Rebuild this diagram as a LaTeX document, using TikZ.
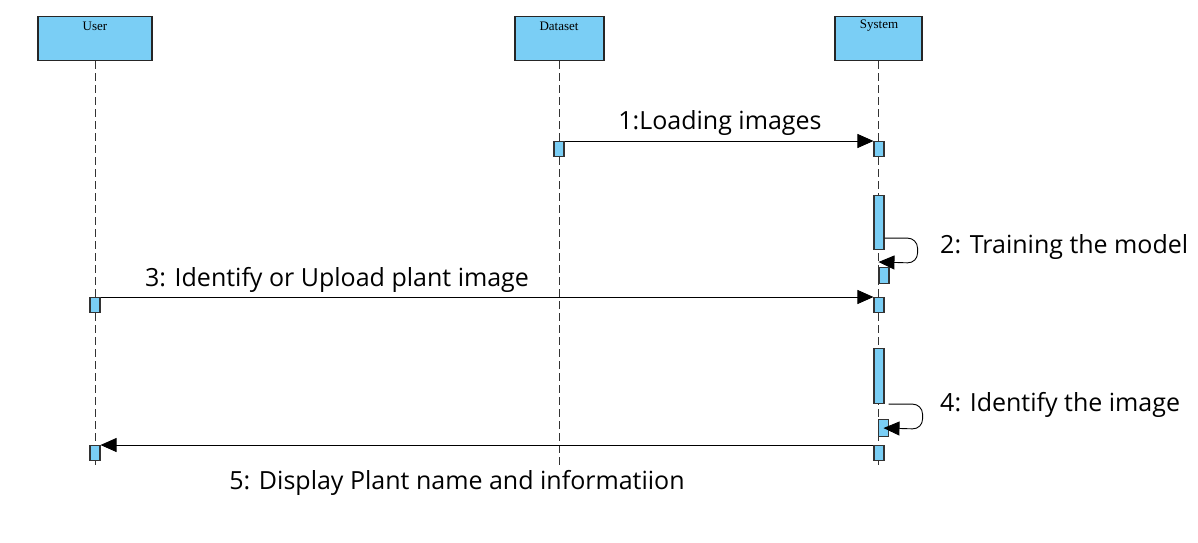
\documentclass[tikz,border=0pt]{standalone}
\usepackage{fontspec}
\setmainfont{Open Sans}
\newfontfamily\headfont{Liberation Serif}
\usetikzlibrary{arrows.meta}
\definecolor{actblue}{RGB}{122,206,245}
\tikzset{
	head/.style = {rectangle, draw=black!85, fill=actblue, line width=1.2pt,
		minimum width=#1, minimum height=44pt, inner sep=0pt, anchor=north},% lifeline head
	headtext/.style = {font=\headfont\fontsize{13}{15}\selectfont, inner sep=0pt},
	lifeline/.style = {draw=black!80, line width=0.9pt, dash pattern=on 8pt off 4pt},
	act/.style = {rectangle, draw=black!80, fill=actblue, line width=1.1pt,
		minimum width=10pt, minimum height=#1, inner sep=0pt, anchor=north},% activation
	act/.default = 15pt,
	msg/.style = {draw=black, line width=0.9pt, -{Triangle[length=16pt,width=14pt]}},
	msglabel/.style = {font=\fontsize{25}{29}\selectfont, inner sep=0pt}
}
\begin{document}
\begin{tikzpicture}[x=1pt,y=-1pt]
	\useasboundingbox (0,0) rectangle (1198,542);
	% heads
	\node[head=114pt] (user) at (95,16) {};
	\node[head=89pt] (dataset) at (559.5,16) {};
	\node[head=87pt] (system) at (878.5,16) {};
	\node[headtext] (tuser) at (95,26) {User};
	\node[headtext] (tdataset) at (559,26) {Dataset};
	\node[headtext] (tsystem) at (879,26) {System};
	% lifelines
	\coordinate (bottom) at (0,468);
	\draw[lifeline] (user.south) -- (user.south |- bottom);
	\draw[lifeline] (dataset.south) -- (dataset.south |- bottom);
	\draw[lifeline] (system.south) -- (system.south |- bottom);
	% activations
	\node[act] (d1) at (559,141) {};
	\node[act] (s1) at (879,141) {};
	\node[act=54pt] (s2) at (879,195) {};
	\node[act=16pt] (s3) at (884,267) {};
	\node[act] (u4) at (95,297) {};
	\node[act] (s4) at (879,297) {};
	\node[act=55pt] (s5) at (879,348) {};
	\node[act=17pt] (s6) at (883.5,419) {};
	\node[act] (s7) at (879,445) {};
	\node[act] (u7) at (95,445) {};
	% messages
	\draw[msg] (d1.north east) -- (s1.north west);
	\draw[msg, rounded corners=10pt] ([yshift=12pt]s2.south east) -- ++(33,0)
		-- ++(0,25) -- ([yshift=5pt]s3.north west);
	\draw[msg] (u4.north east) -- (s4.north west);
	\draw[msg, rounded corners=10pt] ([xshift=4pt]s5.south east) -- ++(34,0)
		-- ++(0,25) -- (s6.center);
	\draw[msg] (s7.north west) -- (u7.north east);
	% labels
	\node[msglabel] (l1) at (720,123) {1:Loading images};
	\node[msglabel, anchor=west] (l2) at (940,247) {2: Training the model};
	\node[msglabel] (l3) at (337,280) {3: Identify or Upload plant image};
	\node[msglabel, anchor=west] (l4) at (940,405) {4: Identify the image};
	\node[msglabel] (l5) at (457,483) {5: Display Plant name and informatiion};
\end{tikzpicture}
\end{document}
